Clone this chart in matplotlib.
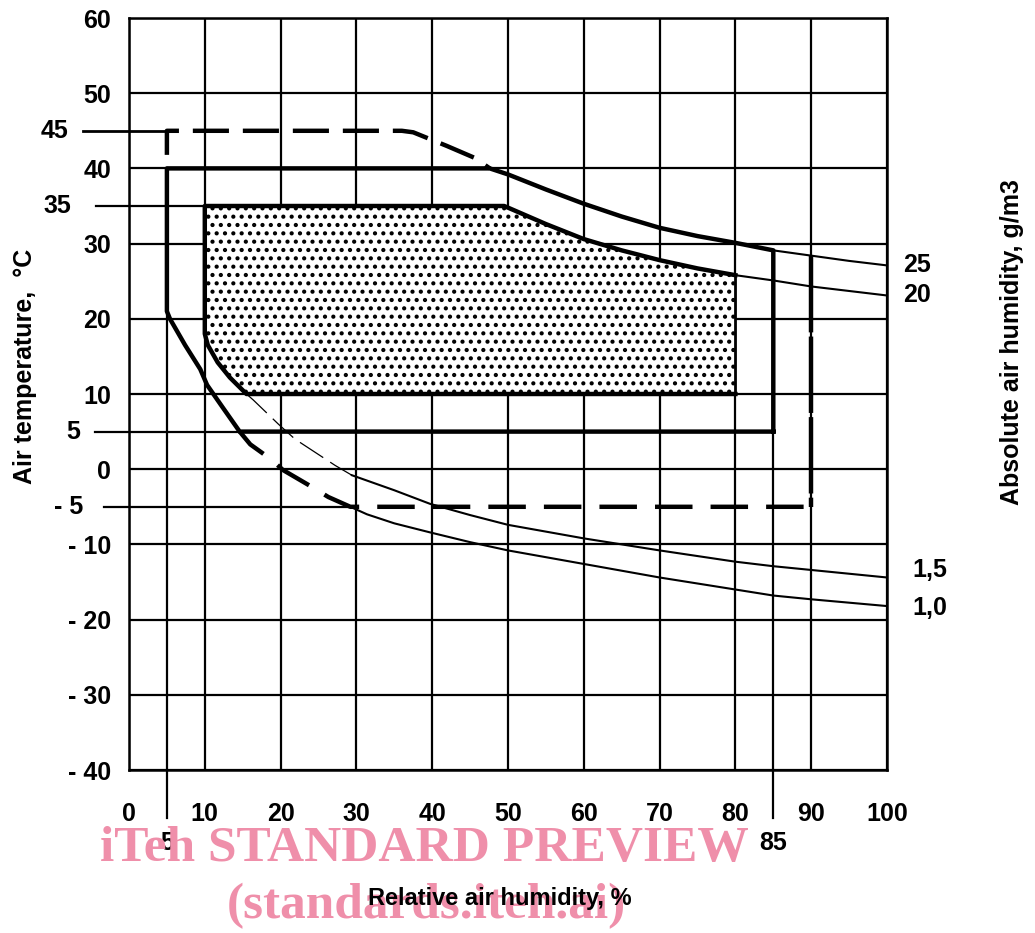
import numpy as np
import matplotlib
matplotlib.use("Agg")
import matplotlib.pyplot as plt
from matplotlib.patches import Polygon

plt.rcParams['font.family'] = ['Liberation Sans', 'DejaVu Sans']
plt.rcParams['font.weight'] = 'bold'
plt.rcParams['hatch.linewidth'] = 1.8
plt.rcParams['lines.scale_dashes'] = False

# ---------------- data ----------------
rh_ticks = [0, 10, 20, 30, 40, 50, 60, 70, 80, 90, 100]
rh_tick_labels = ['0', '10', '20', '30', '40', '50', '60', '70', '80', '90', '100']
rh_extra = [5, 85]
rh_extra_labels = ['5', '85']

temp_ticks = [-40, -30, -20, -10, 0, 10, 20, 30, 40, 50, 60]
temp_tick_labels = ['- 40', '- 30', '- 20', '- 10', '0', '10', '20', '30', '40', '50', '60']
temp_extra = [45, 35, 5, -5]
temp_extra_labels = ['45', '35', '5', '- 5']

# absolute humidity curves (g/m3): relative humidity (%) vs air temperature (degC)
ah25_rh = [47.6, 50, 55, 60, 65, 70, 75, 80, 85, 90, 95, 100]
ah25_t = [40.0, 39.2, 37.2, 35.3, 33.6, 32.1, 31.0, 30.1, 29.1, 28.4, 27.7, 27.1]

ah20_rh = [49.5, 55, 60, 65, 70, 75, 80, 85, 90, 95, 100]
ah20_t = [35.0, 32.6, 30.6, 29.1, 27.8, 26.7, 25.8, 25.1, 24.3, 23.7, 23.1]

ah15_rh = [10, 10.4, 11.7, 13.3, 15.5, 16.4, 19.7, 21.9, 27.2, 29.4, 35, 39.7, 45, 50, 60, 70, 80, 85, 90, 100]
ah15_t = [18.0, 16.5, 14.2, 12.2, 10.0, 9.2, 6.0, 4.0, 0.5, -0.8, -2.8, -4.6, -6.1, -7.4, -9.2, -10.8, -12.3, -12.9, -13.4, -14.4]

ah10_rh = [5, 5.4, 7.4, 9.4, 10.3, 12.3, 14.6, 16, 18.9, 20.3, 24.2, 26.3, 29.2, 31.4, 35, 39.7, 45, 50, 60, 70, 80, 85, 90, 100]
ah10_t = [21.0, 20.0, 16.5, 13.3, 11.2, 8.3, 5.0, 3.3, 1.2, -0.1, -2.4, -3.7, -5.0, -6.0, -7.2, -8.4, -9.7, -10.8, -12.6, -14.4, -16.0, -16.8, -17.3, -18.2]

curve_labels = ['25', '20', '1,5', '1,0']

# climate envelopes
inner_rh = (10, 80)
inner_t = (10, 35)
middle_rh = (5, 85)
middle_t = (5, 40)
outer_rh = (5, 90)
outer_t = (-5, 45)
outer_knee_rh = [36, 37.5, 39.7, 41.9, 45.6, 47.6]
outer_knee_t = [45, 44.8, 43.9, 43.0, 41.4, 40.0]

# ---------------- figure ----------------
W, H = 1035, 933
fig = plt.figure(figsize=(W / 100, H / 100), dpi=100)
ax = fig.add_axes([129 / W, 1 - 770 / H, (887 - 129) / W, (770 - 18) / H])
ax.set_xlim(0, 100)
ax.set_ylim(-40, 60)

GRID_LW = 1.6
THICK = 3.2
THIN = 1.5
K = 'black'
FS = 18

for s in ax.spines.values():
    s.set_linewidth(1.8)
    s.set_zorder(3)

ax.set_xticks(rh_ticks, labels=rh_tick_labels)
ax.set_xticks(rh_extra, labels=rh_extra_labels, minor=True)
ax.set_yticks(temp_ticks, labels=temp_tick_labels)
ax.tick_params(axis='x', which='major', length=0, pad=23, labelsize=FS)
ax.tick_params(axis='x', which='minor', length=0, pad=44, labelsize=FS)
ax.tick_params(axis='y', length=0, pad=13, labelsize=FS)
ax.grid(True, which='major', color=K, linewidth=GRID_LW)
ax.set_axisbelow(True)

a25r, a25t = np.array(ah25_rh), np.array(ah25_t)
a20r, a20t = np.array(ah20_rh), np.array(ah20_t)
a15r, a15t = np.array(ah15_rh), np.array(ah15_t)
a10r, a10t = np.array(ah10_rh), np.array(ah10_t)

# --- inner (shaded) envelope ---
m20 = a20r <= inner_rh[1]
m15L = a15r <= inner_rh[0] + 5.5
inner_x = ([inner_rh[0]] + list(a20r[m20]) + [inner_rh[1], inner_rh[1]] + list(a15r[m15L][::-1]))
inner_y = ([inner_t[1]] + list(a20t[m20]) + [a20t[m20][-1], inner_t[0]] + list(a15t[m15L][::-1]))
poly = Polygon(np.column_stack([inner_x, inner_y]), closed=True, facecolor='white',
               edgecolor=K, hatch='..', linewidth=0, zorder=1.5)
ax.add_patch(poly)

# thin absolute-humidity curves
ax.plot(a25r, a25t, color=K, lw=THIN, zorder=2)
ax.plot(a20r, a20t, color=K, lw=THIN, zorder=2)
m15d = (a15r >= 15.5) & (a15r <= 29.4)
ax.plot(a15r[m15d], a15t[m15d], color=K, lw=0.9, ls=(0, (20, 6)), zorder=2)
ax.plot(a15r[a15r >= 29.4], a15t[a15r >= 29.4], color=K, lw=THIN, zorder=2)
ax.plot(a10r[a10r >= 29.2], a10t[a10r >= 29.2], color=K, lw=THIN, zorder=2)

# inner boundary (thick)
bx = [inner_rh[1]] + list(a15r[m15L][::-1]) + [inner_rh[0]] + list(a20r[m20])
by = [inner_t[0]] + list(a15t[m15L][::-1]) + [inner_t[1]] + list(a20t[m20])
ax.plot(bx, by, color=K, lw=THICK, solid_joinstyle='round', zorder=2.5)
ax.plot([inner_rh[1], inner_rh[1]], [inner_t[0], a20t[m20][-1]], color=K, lw=2.0, zorder=2.5)

# middle boundary (thick solid)
m25 = a25r <= middle_rh[1]
m10L = a10r <= 14.6
mx = ([middle_rh[1]] + list(a10r[m10L][::-1]) + [middle_rh[0]] + list(a25r[m25]) + [middle_rh[1], middle_rh[1]])
my = ([middle_t[0]] + list(a10t[m10L][::-1]) + [middle_t[1]] + list(a25t[m25]) + [a25t[m25][-1], middle_t[0]])
ax.plot(mx, my, color=K, lw=THICK, solid_joinstyle='round', zorder=2.5)

# outer boundary (thick dashed)
ox1 = [outer_rh[0], outer_rh[0]] + outer_knee_rh
oy1 = [41.8, outer_t[1]] + outer_knee_t
ax.plot(ox1, oy1, color=K, lw=THICK, ls=(0, (26, 10)), zorder=2.5)
t90 = a25t[a25r == outer_rh[1]][0]
ax.plot([outer_rh[1], outer_rh[1]], [t90, outer_t[0]], color=K, lw=THICK, ls=(0, (55, 3)), zorder=2.5)
m10d = (a10r >= 14.6) & (a10r <= 29.2)
ox2 = [outer_rh[1] - 1.0] + list(a10r[m10d][::-1])
oy2 = [outer_t[0]] + list(a10t[m10d][::-1])
ax.plot(ox2, oy2, color=K, lw=THICK, ls=(0, (27, 13)), zorder=2.5)

# reference lines reaching outside the grid
ax.plot([-6.1, outer_rh[0]], [45, 45], color=K, lw=2.0, clip_on=False, zorder=2)
ax.plot([-4.4, inner_rh[0]], [35, 35], color=K, lw=GRID_LW, clip_on=False, zorder=2)
ax.plot([-4.5, 14.6], [5, 5], color=K, lw=GRID_LW, clip_on=False, zorder=2)
ax.plot([-3.3, 29.2], [-5, -5], color=K, lw=GRID_LW, clip_on=False, zorder=2)
ax.plot([5, 5], [middle_t[1], -46.4], color=K, lw=GRID_LW, clip_on=False, zorder=2)
ax.plot([85, 85], [a25t[m25][-1], -46.4], color=K, lw=GRID_LW, clip_on=False, zorder=2)

# extra temperature labels
extra_offsets = [-61, -58, -49, -46]  # pixels from left edge of grid
for v, lab, off in zip(temp_extra, temp_extra_labels, extra_offsets):
    ax.annotate(lab, xy=(0, v), xycoords=('axes fraction', 'data'),
                xytext=(off * 0.72, 0), textcoords='offset points',
                ha='right', va='center', fontsize=FS, fontweight='bold')

# curve labels on the right
ax.text(102.1, a25t[-1], curve_labels[0], ha='left', va='center', fontsize=FS, clip_on=False)
ax.text(102.1, a20t[-1], curve_labels[1], ha='left', va='center', fontsize=FS, clip_on=False)
ax.text(103.4, a15t[-1] + 1.0, curve_labels[2], ha='left', va='center', fontsize=FS, clip_on=False)
ax.text(103.4, a10t[-1] - 0.2, curve_labels[3], ha='left', va='center', fontsize=FS, clip_on=False)

# axis titles
fig.text(25 / W, 1 - 366 / H, 'Air temperature,  \u00b0C', rotation=90, ha='center', va='center',
         fontsize=18, fontweight='bold')
fig.text(1012 / W, 1 - 342 / H, 'Absolute air humidity, g/m3', rotation=90, ha='center', va='center',
         fontsize=18, fontweight='bold')

# watermark
wm = '#ef8faa'
fig.text(424 / W, 1 - 849 / H, 'iTeh STANDARD PREVIEW', ha='center', va='center', color=wm,
         fontsize=37, fontweight='bold', family=['Liberation Serif', 'DejaVu Serif'], zorder=5)
fig.text(426 / W, 1 - 906 / H, '(standards.iteh.ai)', ha='center', va='center', color=wm,
         fontsize=37, fontweight='bold', family=['Liberation Serif', 'DejaVu Serif'], zorder=5)

fig.text(500 / W, 1 - 898 / H, 'Relative air humidity, %', ha='center', va='center',
         fontsize=17, fontweight='bold', zorder=6)

fig.savefig('out.png', dpi=100)
